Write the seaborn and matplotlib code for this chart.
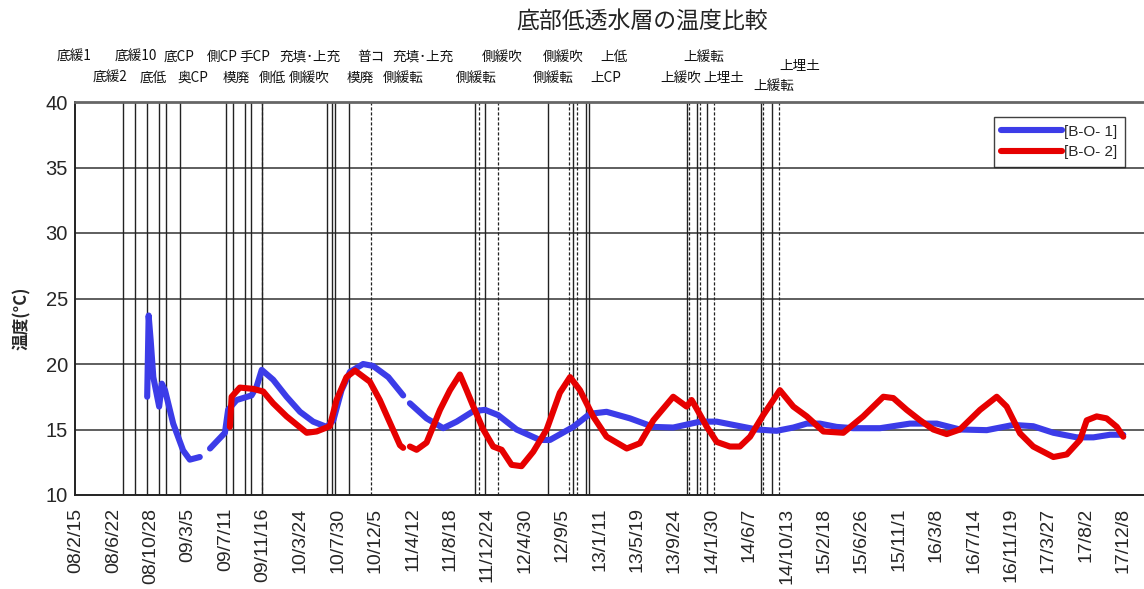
import matplotlib
matplotlib.use("Agg")
import matplotlib.pyplot as plt
import matplotlib.transforms as mtransforms
from matplotlib.lines import Line2D
import numpy as np
import pandas as pd
import seaborn as sns

# ---------------- data ----------------
# x values are elapsed days since 2008-02-15 (the first tick)
tick_labels = ["08/2/15", "08/6/22", "08/10/28", "09/3/5", "09/7/11", "09/11/16",
               "10/3/24", "10/7/30", "10/12/5", "11/4/12", "11/8/18", "11/12/24",
               "12/4/30", "12/9/5", "13/1/11", "13/5/19", "13/9/24", "14/1/30",
               "14/6/7", "14/10/13", "15/2/18", "15/6/26", "15/11/1", "16/3/8",
               "16/7/14", "16/11/19", "17/3/27", "17/8/2", "17/12/8"]
tick_step_days = 128

# [B-O-1] (blue) three recorded segments
b1_seg1_days = [244, 249, 256, 265, 285, 294, 305, 333, 367, 390, 424]
b1_seg1_temp = [17.5, 23.7, 21.8, 19.0, 16.75, 18.5, 18.0, 15.45, 13.4, 12.7, 12.9]
b1_seg2_days = [459, 510, 521, 550, 601, 618, 636, 675, 721, 767, 812, 858, 881, 909,
                938, 983, 1017, 1069, 1120]
b1_seg2_temp = [13.55, 14.75, 16.5, 17.25, 17.6, 18.25, 19.55, 18.8, 17.5, 16.35, 15.6,
                15.2, 15.7, 18.0, 19.4, 20.0, 19.85, 19.0, 17.6]
b1_seg3_days = [1143, 1200, 1257, 1303, 1360, 1400, 1445, 1508, 1588, 1622, 1702, 1759,
                1816, 1896, 1976, 2044, 2136, 2193, 2250, 2330, 2398, 2455, 2501, 2546,
                2603, 2660, 2752, 2854, 2946, 3025, 3117, 3208, 3276, 3345, 3425, 3482,
                3539, 3584]
b1_seg3_temp = [17.0, 15.85, 15.1, 15.6, 16.4, 16.5, 16.1, 15.0, 14.2, 14.2, 15.2, 16.2,
                16.35, 15.85, 15.2, 15.15, 15.6, 15.6, 15.35, 15.0, 14.9, 15.15, 15.45, 15.45,
                15.2, 15.1, 15.1, 15.45, 15.45, 15.0, 14.95, 15.35, 15.25, 14.75, 14.4, 14.4,
                14.6, 14.6]

# [B-O-2] (red) two recorded segments
b2_seg1_days = [527, 533, 561, 607, 641, 675, 721, 790, 824, 869, 892, 926, 955, 1006,
                1040, 1075, 1109, 1120]
b2_seg1_temp = [15.2, 17.5, 18.2, 18.1, 17.9, 17.0, 16.0, 14.75, 14.85, 15.25, 17.25,
                19.0, 19.5, 18.65, 17.25, 15.5, 13.8, 13.6]
b2_seg2_days = [1143, 1166, 1200, 1246, 1280, 1314, 1337, 1360, 1394, 1428, 1457, 1491,
                1525, 1565, 1611, 1656, 1691, 1725, 1770, 1816, 1885, 1930, 1976, 2044,
                2090, 2107, 2124, 2159, 2193, 2238, 2272, 2307, 2352, 2409, 2455, 2501,
                2558, 2626, 2694, 2763, 2797, 2843, 2889, 2934, 2980, 3025, 3094, 3151,
                3185, 3231, 3276, 3345, 3391, 3436, 3459, 3493, 3527, 3562, 3584]
b2_seg2_temp = [13.7, 13.45, 14.0, 16.5, 18.0, 19.2, 18.0, 16.75, 15.0, 13.7, 13.45, 12.3,
                12.2, 13.3, 15.0, 17.8, 19.0, 18.0, 16.0, 14.45, 13.55, 13.95, 15.7, 17.5,
                16.75, 17.25, 16.6, 15.2, 14.05, 13.7, 13.7, 14.45, 16.1, 18.0, 16.75, 16.0,
                14.85, 14.75, 16.0, 17.5, 17.4, 16.5, 15.7, 15.0, 14.65, 15.0, 16.5, 17.5,
                16.75, 14.7, 13.7, 12.9, 13.1, 14.2, 15.7, 16.0, 15.85, 15.2, 14.45]

series_names = ["[B-O- 1]", "[B-O- 2]"]

# event lines (elapsed days)
event_solid_days = [161, 202, 243, 284, 308, 356, 513, 537, 578, 599, 637, 859, 876, 886,
                    934, 1366, 1400, 1615, 1701, 1745, 1756, 2091, 2125, 2160, 2344, 2382]
event_dashed_days = [637, 1010, 1379, 1444, 1687, 1715, 2098, 2136, 2184, 2351, 2406]

# event annotations (text, elapsed day)
ann_texts = ["底緩1", "底緩10", "底CP", "側CP", "手CP", "充填･上充", "普コ", "充填･上充",
             "側緩吹", "側緩吹", "上低", "上緩転", "上埋土",
             "底緩2", "底低", "奥CP", "模廃", "側低", "側緩吹", "模廃", "側緩転",
             "側緩転", "側緩転", "上CP", "上緩吹", "上埋土", "上緩転"]
ann_days = [-7, 205, 353, 500, 613, 801, 1010, 1188, 1458, 1667, 1841, 2149, 2478,
            116, 264, 400, 548, 674, 797, 972, 1119, 1369, 1633, 1814, 2071, 2218, 2389]

title = "底部低透水層の温度比較"
ylabel = "温度(°C)"

# ---------------- build frame ----------------
rows = []
segs = [(series_names[0], b1_seg1_days, b1_seg1_temp),
        (series_names[0], b1_seg2_days, b1_seg2_temp),
        (series_names[0], b1_seg3_days, b1_seg3_temp),
        (series_names[1], b2_seg1_days, b2_seg1_temp),
        (series_names[1], b2_seg2_days, b2_seg2_temp)]
for i, (name, d, t) in enumerate(segs):
    for dd, tt in zip(d, t):
        rows.append({"day": dd, "temp": tt, "series": name, "seg": i})
df = pd.DataFrame(rows)

# ---------------- style ----------------
sns.set_theme(style="white")
plt.rcParams["font.family"] = ["Noto Sans CJK JP", "DejaVu Sans"]
cjk = ["Noto Sans CJK JP", "DejaVu Sans"]
num_font = ["Liberation Sans", "DejaVu Sans"]

W, H = 1144, 589
fig = plt.figure(figsize=(W / 100, H / 100), dpi=100)
ax = fig.add_axes([75 / W, (H - 495) / H, (W - 75) / W, 393 / H])

colors = {series_names[0]: "#3c3ce8", series_names[1]: "#e60000"}

ax.set_xlim(-3, 3655)
ax.set_ylim(10, 40)

# horizontal grid
for yv in [15, 20, 25, 30, 35]:
    ax.axhline(yv, color="#333333", lw=1.1, zorder=1)

# event lines
for d in event_solid_days:
    ax.axvline(d, color="#222222", lw=1.0, zorder=1)
for d in event_dashed_days:
    ax.axvline(d, color="#222222", lw=0.9, ls=(0, (2.5, 1.5)), zorder=1)

sns.lineplot(data=df, x="day", y="temp", hue="series", units="seg", estimator=None,
             palette=colors, linewidth=4.4, legend=False, ax=ax, sort=False,
             solid_capstyle="round", solid_joinstyle="round", zorder=3)

# ticks
ax.set_xticks(np.arange(len(tick_labels)) * tick_step_days)
ax.set_xticklabels(tick_labels, rotation=90, fontsize=14, family=num_font)
ax.set_yticks([10, 15, 20, 25, 30, 35, 40])
ax.set_yticklabels([str(v) for v in [10, 15, 20, 25, 30, 35, 40]], fontsize=14.5,
                   family=num_font)
ax.tick_params(axis="x", direction="in", length=5, width=0.8, pad=9, color="#333333")
ax.tick_params(axis="y", direction="in", length=0, pad=5)
ax.set_xlabel("")
ax.set_ylabel("")
for s in ["left", "bottom", "top"]:
    ax.spines[s].set_color("#222222")
    ax.spines[s].set_linewidth(1.4)
ax.spines["top"].set_color("#666666")
ax.spines["top"].set_linewidth(2.0)
ax.spines["right"].set_visible(False)

# y label
fig.text(22 / W, 1 - 318 / H, ylabel, rotation=90, ha="center", va="center",
         fontsize=12, fontweight="bold", family=cjk)

# title
fig.text(642 / W, 1 - 22 / H, title, ha="center", va="center", fontsize=16.5,
         family=cjk, color="#222222")

# annotations
row_y = [1.1145] * 12 + [1.0916] + [1.061] * 13 + [1.0407]
trans = mtransforms.blended_transform_factory(ax.transData, ax.transAxes)
for txt, d, yy in zip(ann_texts, ann_days, row_y):
    ax.text(d, yy, txt, transform=trans, ha="center", va="center", fontsize=9.8,
            family=cjk, color="#111111", clip_on=False)

# legend
handles = [Line2D([], [], color=colors[n], lw=4.4, solid_capstyle="round")
           for n in series_names]
leg = ax.legend(handles, series_names, loc="upper right",
                bbox_to_anchor=(0.982, 0.962), frameon=True, fancybox=False,
                edgecolor="#111111", handlelength=4.0,
                borderpad=0.5, labelspacing=0.45, handletextpad=0.1,
                borderaxespad=0.0,
                prop={"family": num_font, "size": 11})
leg.get_frame().set_linewidth(1.0)

fig.savefig("out.png", dpi=100)
